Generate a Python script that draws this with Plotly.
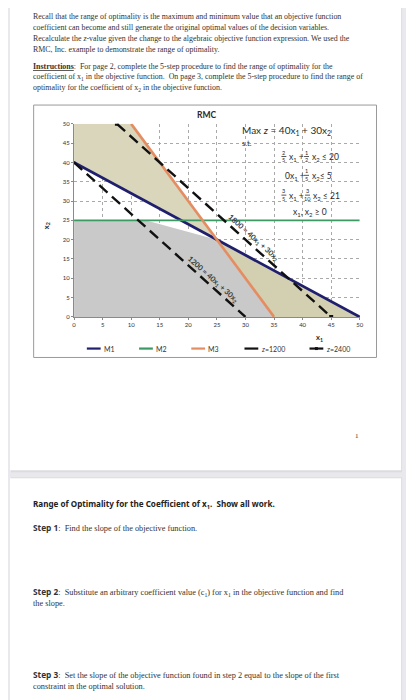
import plotly.graph_objects as go

# the page body keeps an 8px margin, so the figure sits at (8, 8) in the window
OFF = 8
W, H = 414 - OFF, 700 - OFF

# constraint lines (x1 values, x2 values)
m1_x = [0, 50]
m1_y = [40, 0]
m2_x = [0, 50]
m2_y = [25, 25]
m3_x = [10, 35]
m3_y = [50, 0]
z1200_x = [0, 30]
z1200_y = [40, 0]
z2400_x = [7.5, 45]
z2400_y = [50, 0]

# shaded regions
feasible_x = [0, 0, 12.5, 25, 35, 0]
feasible_y = [0, 25, 25, 20, 0, 0]
tan_top_x = [0, 0, 10, 25, 0]
tan_top_y = [40, 50, 50, 20, 40]
tan_bot_x = [25, 50, 35, 25]
tan_bot_y = [20, 0, 0, 20]

ticks = [0, 5, 10, 15, 20, 25, 30, 35, 40, 45, 50]

legend_names = ["M1", "M2", "M3", "<i>z</i>=1200", "<i>z</i>=2400"]
legend_colors = ["#1f1f6e", "#3c9a63", "#e58d62", "#111111", "#111111"]


def px(x):
    return (x - OFF) / W


def py(y):
    return 1 - (y - OFF) / H


fig = go.Figure()

fig.add_trace(go.Scatter(x=feasible_x, y=feasible_y, fill="toself", mode="lines",
                         line=dict(width=0), fillcolor="#c9c9c9", showlegend=False,
                         hoverinfo="skip"))
fig.add_trace(go.Scatter(x=tan_top_x, y=tan_top_y, fill="toself", mode="lines",
                         line=dict(width=0), fillcolor="#d9d6bb", showlegend=False,
                         hoverinfo="skip"))
fig.add_trace(go.Scatter(x=tan_bot_x, y=tan_bot_y, fill="toself", mode="lines",
                         line=dict(width=0), fillcolor="#d3d0b2", showlegend=False,
                         hoverinfo="skip"))

fig.add_trace(go.Scatter(x=m1_x, y=m1_y, name="M1", mode="lines+markers",
                         line=dict(color=legend_colors[0], width=2.8),
                         marker=dict(size=3, color=legend_colors[0])))
fig.add_trace(go.Scatter(x=m2_x, y=m2_y, name="M2", mode="lines",
                         line=dict(color=legend_colors[1], width=1.6)))
fig.add_trace(go.Scatter(x=m3_x, y=m3_y, name="M3", mode="lines",
                         line=dict(color=legend_colors[2], width=2.6)))
fig.add_trace(go.Scatter(x=z1200_x, y=z1200_y, name="z=1200", mode="lines",
                         line=dict(color=legend_colors[3], width=2.4, dash="11px,6px")))
fig.add_trace(go.Scatter(x=z2400_x, y=z2400_y, name="z=2400", mode="lines+markers",
                         line=dict(color=legend_colors[4], width=2.4, dash="11px,6px"),
                         marker=dict(size=4, symbol="square", color=legend_colors[4])))

shapes = [
    # page cards
    dict(type="rect", xref="paper", yref="paper", x0=px(9), x1=px(406), y0=py(473), y1=py(-5),
         fillcolor="#dcdce0", line=dict(width=0), layer="below"),
    dict(type="rect", xref="paper", yref="paper", x0=px(8), x1=px(405), y0=py(471), y1=py(-5),
         fillcolor="white", line=dict(width=0), layer="below"),
    dict(type="rect", xref="paper", yref="paper", x0=px(9), x1=px(406), y0=py(705), y1=py(478),
         fillcolor="#dcdce0", line=dict(width=0), layer="below"),
    dict(type="rect", xref="paper", yref="paper", x0=px(8), x1=px(405), y0=py(705), y1=py(479),
         fillcolor="white", line=dict(width=0), layer="below"),
    # chart frame
    dict(type="rect", xref="paper", yref="paper", x0=px(32), x1=px(380), y0=py(357), y1=py(102),
         fillcolor="white", line=dict(color="#9a9a9a", width=1), layer="below"),
]

serif = "Liberation Serif"
sans = "Lato"
ann = []


def text(s, x, y, size=7.9, family=serif, color="#333333", anchor="left", angle=0):
    ann.append(dict(text=s, x=px(x), y=py(y), xref="paper", yref="paper",
                    xanchor=anchor, yanchor="middle", showarrow=False, textangle=angle,
                    font=dict(family=family, size=size, color=color)))


# page 1 text
L = 29
text("Recall that the range of optimality is the maximum and minimum value that an objective function", L, 13)
text("coefficient can become and still generate the original optimal values of the decision variables.", L, 24)
text("Recalculate the <i>z</i>-value given the change to the algebraic objective function expression. We used the", L, 35)
text("RMC, Inc. example to demonstrate the range of optimality.", L, 46)
text("<b><u>Instructions</u></b>:  For page 2, complete the 5-step procedure to find the range of optimality for the", L, 63)
text("coefficient of x<sub>1</sub> in the objective function.  On page 3, complete the 5-step procedure to find the range of", L, 74)
text("optimality for the coefficient of x<sub>2</sub> in the objective function.", L, 85)
text("1", 356, 436, size=7)

# page 2 text
text("<b>Range of Optimality for the Coefficient of x<sub>1</sub>.  Show all work.</b>", L, 506,
     size=8.1, family="Noto Sans", color="#222222")
stepfont = "<span style='font-family:Open Sans'><b>%s</b></span>"
text(stepfont % "Step 1" + ":  Find the slope of the objective function.", L, 529, size=8.3)
text(stepfont % "Step 2" + ":  Substitute an arbitrary coefficient value (c<sub>1</sub>) for x<sub>1</sub> in the objective function and find", L, 594, size=8.3)
text("the slope.", L, 606, size=8.3)
text(stepfont % "Step 3" + ":  Set the slope of the objective function found in step 2 equal to the slope of the first", L, 677, size=8.3)
text("constraint in the optimal solution.", L, 689, size=8.3)

# chart text
dark = "#2a2a2a"
text("<b>RMC</b>", 207, 112, size=8.5, family=sans, color=dark, anchor="center")
text("<b>x<sub>2</sub></b>", 45, 224, size=7.5, family=sans, color=dark, anchor="center", angle=-90)
text("<b>x<sub>1</sub></b>", 322, 337, size=7.5, family=sans, color=dark, anchor="center")
text("Max <i>z</i> = 40x<sub>1</sub> + 30x<sub>2</sub>", 241, 128, size=10, family=sans, color=dark)
text("s.t.", 241, 141, size=7.5, family=sans, color=dark)


def frac(num, den, x, y):
    text(num, x, y - 4, size=5.5, family=sans, color=dark, anchor="center")
    text(den, x, y + 4, size=5.5, family=sans, color=dark, anchor="center")
    shapes.append(dict(type="line", xref="paper", yref="paper", x0=px(x - 2.5), x1=px(x + 2.5),
                       y0=py(y), y1=py(y), line=dict(color=dark, width=0.8)))


eq = 8.5
frac("2", "5", 286, 154)
text("x<sub>1</sub> +", 289, 155, size=eq, family=sans, color=dark)
frac("1", "2", 309, 154)
text("x<sub>2</sub> ≤ 20", 312, 155, size=eq, family=sans, color=dark)
text("0x<sub>1</sub> +", 285, 174, size=eq, family=sans, color=dark)
frac("1", "5", 309, 173)
text("x<sub>2</sub>≤ 5", 312, 174, size=eq, family=sans, color=dark)
frac("3", "5", 286, 193)
text("x<sub>1</sub> +", 289, 194, size=eq, family=sans, color=dark)
frac("3", "10", 310, 193)
text("x<sub>2</sub> ≤ 21", 314, 194, size=eq, family=sans, color=dark)
text("x<sub>1</sub>, x<sub>2</sub> ≥ 0", 313, 211, size=eq, family=sans, color=dark, anchor="center")

# labels along the objective lines
text("<b>1200 = 40x<sub>1</sub> + 30x<sub>2</sub></b>", 214, 279, size=7.5, family=sans, color="#3a3a3a",
     anchor="center", angle=42)
text("<b>1800 = 40x<sub>1</sub> + 30x<sub>2</sub></b>", 255, 236, size=7.5, family=sans, color="#3a3a3a",
     anchor="center", angle=42)

# legend row under the chart
leg_x = [86, 139, 192, 246, 312]
leg_y = 348
for i, (name, col, lx) in enumerate(zip(legend_names, legend_colors, leg_x)):
    shapes.append(dict(type="line", xref="paper", yref="paper", x0=px(lx), x1=px(lx + 14),
                       y0=py(leg_y), y1=py(leg_y), line=dict(color=col, width=2.2)))
    if i == 4:
        shapes.append(dict(type="rect", xref="paper", yref="paper", x0=px(lx + 5.5), x1=px(lx + 8.5),
                           y0=py(leg_y + 1.5), y1=py(leg_y - 1.5), fillcolor=col, line=dict(width=0)))
    text(name, lx + 15, leg_y, size=7, family=sans, color="#333333")

axis_common = dict(range=[0, 50], tickvals=ticks, showgrid=True, gridcolor="#a9a9a9",
                   griddash="dot", gridwidth=1, zeroline=False, showline=True,
                   linecolor="#8a8a8a", linewidth=1.2, ticks="outside", ticklen=2,
                   tickcolor="#8a8a8a", fixedrange=True,
                   tickfont=dict(family=sans, size=6, color="#333333"))

fig.update_layout(
    width=W, height=H,
    margin=dict(l=0, r=0, t=0, b=0),
    paper_bgcolor="#e9e9ed",
    plot_bgcolor="white",
    xaxis=dict(domain=[px(73), px(363)], **axis_common),
    yaxis=dict(domain=[py(316), py(121)], **axis_common),
    shapes=shapes,
    annotations=ann,
    showlegend=False,
)

fig.write_html("out.html")
